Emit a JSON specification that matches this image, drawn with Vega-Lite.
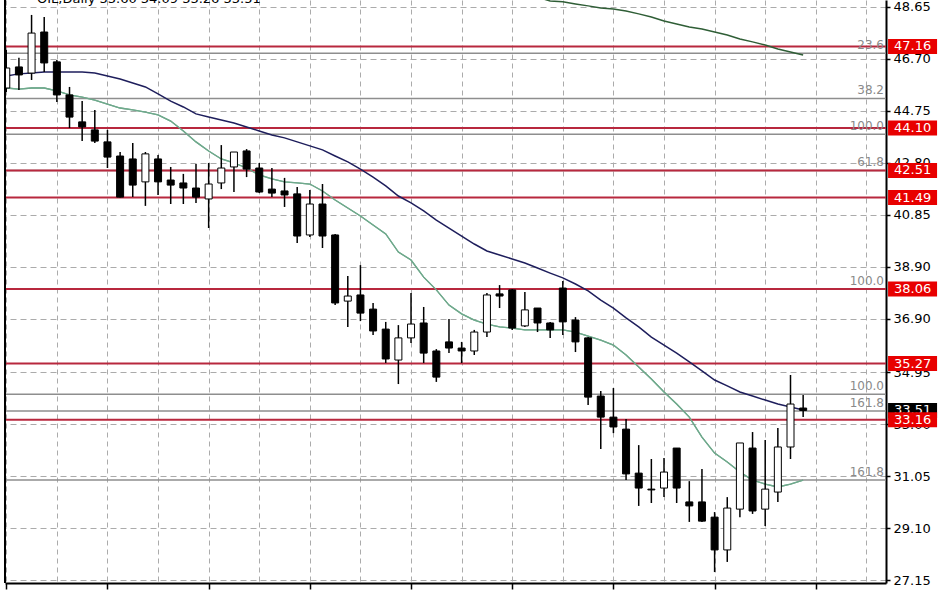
{
  "$schema": "https://vega.github.io/schema/vega-lite/v6.json",
  "width": 881,
  "height": 583,
  "autosize": {"type": "none"},
  "padding": {"left": 5, "top": 0, "right": 62, "bottom": 10},
  "background": "white",
  "config": {"view": {"stroke": null}, "font": "DejaVu Sans"},
  "datasets": {
    "candles": [
      {"k":0,"o":45.60,"h":47.03,"l":45.45,"c":46.35,"m1":46.05,"m2":45.60},
      {"k":1,"o":46.39,"h":46.73,"l":45.53,"c":46.09,"m1":46.13,"m2":45.56},
      {"k":2,"o":46.16,"h":48.34,"l":45.90,"c":47.66,"m1":46.16,"m2":45.60},
      {"k":3,"o":47.70,"h":48.26,"l":46.20,"c":46.54,"m1":46.20,"m2":45.60},
      {"k":4,"o":46.58,"h":46.65,"l":45.08,"c":45.34,"m1":46.20,"m2":45.49},
      {"k":5,"o":45.34,"h":45.64,"l":44.10,"c":44.51,"m1":46.20,"m2":45.34},
      {"k":6,"o":44.33,"h":45.11,"l":43.61,"c":44.14,"m1":46.20,"m2":45.26},
      {"k":7,"o":44.03,"h":44.78,"l":43.54,"c":43.61,"m1":46.16,"m2":45.15},
      {"k":8,"o":43.58,"h":44.03,"l":42.60,"c":43.01,"m1":46.05,"m2":45.00},
      {"k":9,"o":43.05,"h":43.20,"l":41.49,"c":41.51,"m1":45.94,"m2":44.85},
      {"k":10,"o":42.94,"h":43.54,"l":41.51,"c":41.96,"m1":45.79,"m2":44.78},
      {"k":11,"o":42.08,"h":43.20,"l":41.18,"c":43.13,"m1":45.64,"m2":44.70},
      {"k":12,"o":42.94,"h":43.09,"l":41.59,"c":42.08,"m1":45.38,"m2":44.59},
      {"k":13,"o":42.15,"h":42.64,"l":41.25,"c":41.96,"m1":45.11,"m2":44.36},
      {"k":14,"o":42.04,"h":42.38,"l":41.25,"c":41.85,"m1":44.89,"m2":43.99},
      {"k":15,"o":41.85,"h":42.75,"l":41.29,"c":41.51,"m1":44.63,"m2":43.58},
      {"k":16,"o":41.44,"h":42.79,"l":40.35,"c":42.00,"m1":44.51,"m2":43.24},
      {"k":17,"o":42.04,"h":43.46,"l":41.81,"c":42.60,"m1":44.40,"m2":42.94},
      {"k":18,"o":42.64,"h":43.20,"l":41.70,"c":43.20,"m1":44.29,"m2":42.79},
      {"k":19,"o":43.24,"h":43.31,"l":42.26,"c":42.56,"m1":44.14,"m2":42.60},
      {"k":20,"o":42.60,"h":42.79,"l":41.66,"c":41.70,"m1":43.99,"m2":42.34},
      {"k":21,"o":41.81,"h":42.60,"l":41.51,"c":41.66,"m1":43.84,"m2":42.19},
      {"k":22,"o":41.74,"h":42.23,"l":41.14,"c":41.59,"m1":43.73,"m2":42.08},
      {"k":23,"o":41.63,"h":41.89,"l":39.79,"c":40.05,"m1":43.58,"m2":42.04},
      {"k":24,"o":40.09,"h":41.78,"l":40.01,"c":41.25,"m1":43.43,"m2":42.00},
      {"k":25,"o":41.25,"h":42.00,"l":39.60,"c":40.05,"m1":43.28,"m2":41.74},
      {"k":26,"o":40.09,"h":40.13,"l":37.46,"c":37.54,"m1":43.05,"m2":41.40},
      {"k":27,"o":37.61,"h":38.55,"l":36.64,"c":37.80,"m1":42.83,"m2":41.10},
      {"k":28,"o":37.84,"h":38.96,"l":36.86,"c":37.16,"m1":42.56,"m2":40.80},
      {"k":29,"o":37.31,"h":37.54,"l":36.34,"c":36.49,"m1":42.26,"m2":40.46},
      {"k":30,"o":36.56,"h":36.83,"l":35.29,"c":35.44,"m1":41.93,"m2":40.13},
      {"k":31,"o":35.40,"h":36.71,"l":34.50,"c":36.23,"m1":41.55,"m2":39.45},
      {"k":32,"o":36.23,"h":37.91,"l":36.04,"c":36.75,"m1":41.29,"m2":39.15},
      {"k":33,"o":36.79,"h":37.39,"l":35.29,"c":35.66,"m1":40.99,"m2":38.51},
      {"k":34,"o":35.74,"h":35.81,"l":34.58,"c":34.76,"m1":40.65,"m2":38.03},
      {"k":35,"o":36.08,"h":36.94,"l":35.66,"c":35.85,"m1":40.35,"m2":37.46},
      {"k":36,"o":35.85,"h":36.08,"l":35.29,"c":35.74,"m1":40.05,"m2":37.13},
      {"k":37,"o":35.74,"h":36.53,"l":35.59,"c":36.45,"m1":39.75,"m2":36.90},
      {"k":38,"o":36.45,"h":37.91,"l":36.26,"c":37.84,"m1":39.49,"m2":36.75},
      {"k":39,"o":37.88,"h":38.21,"l":37.35,"c":37.80,"m1":39.34,"m2":36.64},
      {"k":40,"o":38.03,"h":38.06,"l":36.53,"c":36.60,"m1":39.19,"m2":36.60},
      {"k":41,"o":36.68,"h":37.95,"l":36.64,"c":37.28,"m1":39.04,"m2":36.53},
      {"k":42,"o":37.35,"h":37.35,"l":36.45,"c":36.79,"m1":38.85,"m2":36.53,"m3":49.01},
      {"k":43,"o":36.79,"h":36.83,"l":36.23,"c":36.53,"m1":38.66,"m2":36.53,"m3":48.86},
      {"k":44,"o":38.10,"h":38.36,"l":36.34,"c":36.83,"m1":38.48,"m2":36.53,"m3":48.83},
      {"k":45,"o":36.90,"h":37.01,"l":35.70,"c":36.08,"m1":38.25,"m2":36.45,"m3":48.75},
      {"k":46,"o":36.23,"h":36.26,"l":33.71,"c":34.01,"m1":37.99,"m2":36.30,"m3":48.68},
      {"k":47,"o":34.05,"h":34.24,"l":32.06,"c":33.26,"m1":37.65,"m2":36.15,"m3":48.60},
      {"k":48,"o":33.26,"h":34.35,"l":32.66,"c":32.89,"m1":37.35,"m2":35.96,"m3":48.56},
      {"k":49,"o":32.81,"h":33.19,"l":30.90,"c":31.13,"m1":36.98,"m2":35.59,"m3":48.49},
      {"k":50,"o":31.16,"h":32.21,"l":29.93,"c":30.60,"m1":36.64,"m2":35.14,"m3":48.38},
      {"k":51,"o":30.56,"h":31.69,"l":30.04,"c":30.53,"m1":36.26,"m2":34.69,"m3":48.26},
      {"k":52,"o":30.60,"h":31.73,"l":30.26,"c":31.20,"m1":35.96,"m2":34.20,"m3":48.11},
      {"k":53,"o":32.10,"h":32.10,"l":30.04,"c":30.60,"m1":35.66,"m2":33.75,"m3":48.00},
      {"k":54,"o":30.08,"h":30.86,"l":29.33,"c":29.93,"m1":35.33,"m2":33.26,"m3":47.89},
      {"k":55,"o":30.08,"h":31.31,"l":29.33,"c":29.36,"m1":34.99,"m2":32.51,"m3":47.81},
      {"k":56,"o":29.51,"h":29.70,"l":27.45,"c":28.28,"m1":34.65,"m2":31.91,"m3":47.70},
      {"k":57,"o":28.28,"h":30.26,"l":27.83,"c":29.85,"m1":34.43,"m2":31.58,"m3":47.59},
      {"k":58,"o":29.81,"h":32.29,"l":29.51,"c":32.29,"m1":34.20,"m2":31.20,"m3":47.44},
      {"k":59,"o":32.10,"h":32.70,"l":29.63,"c":29.74,"m1":34.05,"m2":30.90,"m3":47.33},
      {"k":60,"o":29.81,"h":32.40,"l":29.18,"c":30.56,"m1":33.90,"m2":30.75,"m3":47.21},
      {"k":61,"o":30.45,"h":32.85,"l":30.08,"c":32.14,"m1":33.75,"m2":30.64,"m3":47.06},
      {"k":62,"o":32.14,"h":34.84,"l":31.69,"c":33.75,"m1":33.64,"m2":30.75,"m3":46.95},
      {"k":63,"o":33.60,"h":34.09,"l":33.26,"c":33.51,"m1":33.53,"m2":30.90,"m3":46.84}
    ],
    "levels": [
      {"value":47.16,"label":"47.16"},
      {"value":44.10,"label":"44.10"},
      {"value":42.51,"label":"42.51"},
      {"value":41.49,"label":"41.49"},
      {"value":38.06,"label":"38.06"},
      {"value":35.27,"label":"35.27"},
      {"value":33.16,"label":"33.16"}
    ],
    "fibs": [
      {"value":46.90,"label":"23.6"},
      {"value":45.21,"label":"38.2"},
      {"value":43.87,"label":"100.0"},
      {"value":42.51,"label":"61.8"},
      {"value":38.06,"label":"100.0"},
      {"value":34.12,"label":"100.0"},
      {"value":33.49,"label":"161.8"},
      {"value":30.90,"label":"161.8"}
    ],
    "current": [{"value":33.51,"label":"33.51"}],
    "header": [{"t":"OIL,Daily  33.60 34.09 33.26 33.51"}]
  },
  "layer": [
    {
      "data": {"name": "candles"},
      "mark": {"type": "line", "color": "#6fa98c", "strokeWidth": 1.3, "clip": true},
      "encoding": {
        "x": {
          "field": "k", "type": "quantitative", "title": null,
          "scale": {"domain": [-0.1, 69.55], "nice": false, "zero": false, "padding": 0},
          "axis": {
            "orient": "bottom",
            "values": [0,4,8,12,16,20,24,28,32,36,40,44,48,52,56,60,64,68],
            "grid": true, "gridDash": [5, 4], "gridColor": "#ababab", "gridWidth": 1,
            "labels": false, "ticks": true, "tickSize": 6, "tickColor": "black", "tickWidth": 1.5,
            "tickOpacity": {"condition": {"test": "datum.value % 8 === 0", "value": 1}, "value": 0},
            "domain": true, "domainColor": "black", "domainWidth": 2, "title": null
          }
        },
        "y": {
          "field": "m2", "type": "quantitative", "title": null,
          "scale": {"domain": [27.04, 48.9], "nice": false, "zero": false, "padding": 0},
          "axis": {
            "orient": "right",
            "values": [27.15, 29.10, 31.05, 33.00, 34.95, 36.95, 38.90, 40.85, 42.80, 44.75, 46.70, 48.65],
            "labelExpr": "datum.value == 36.95 ? '36.90' : format(datum.value, '.2f')",
            "grid": true, "gridDash": [6, 4], "gridColor": "#ababab", "gridWidth": 1,
            "ticks": true, "tickSize": 4, "tickColor": "black", "tickWidth": 1.5,
            "labels": true, "labelColor": "black", "labelFontSize": 13, "labelFont": "DejaVu Sans",
            "labelPadding": 3, "labelFlush": false, "labelOverlap": false, "labelBaseline": "middle",
            "domain": true, "domainColor": "black", "domainWidth": 2, "title": null
          }
        }
      }
    },
    {
      "data": {"name": "fibs"},
      "mark": {"type": "rule", "color": "#8e8e8e", "strokeWidth": 1.5},
      "encoding": {
        "y": {"field": "value", "type": "quantitative", "title": null, "scale": {"domain": [27.04, 48.9], "nice": false, "zero": false, "padding": 0}}
      }
    },
    {
      "data": {"name": "levels"},
      "mark": {"type": "rule", "color": "#b8283e", "strokeWidth": 2},
      "encoding": {
        "y": {"field": "value", "type": "quantitative", "title": null, "scale": {"domain": [27.04, 48.9], "nice": false, "zero": false, "padding": 0}}
      }
    },
    {
      "data": {"name": "candles"},
      "mark": {"type": "line", "color": "#6fa98c", "strokeWidth": 1.3, "clip": true},
      "encoding": {
        "x": {"field": "k", "type": "quantitative", "title": null, "scale": {"domain": [-0.1, 69.55], "nice": false, "zero": false, "padding": 0}},
        "y": {"field": "m2", "type": "quantitative", "title": null, "scale": {"domain": [27.04, 48.9], "nice": false, "zero": false, "padding": 0}}
      }
    },
    {
      "data": {"name": "candles"},
      "mark": {"type": "line", "color": "#1e1e5c", "strokeWidth": 1.5, "clip": true},
      "encoding": {
        "x": {"field": "k", "type": "quantitative", "title": null, "scale": {"domain": [-0.1, 69.55], "nice": false, "zero": false, "padding": 0}},
        "y": {"field": "m1", "type": "quantitative", "title": null, "scale": {"domain": [27.04, 48.9], "nice": false, "zero": false, "padding": 0}}
      }
    },
    {
      "data": {"name": "candles"},
      "mark": {"type": "line", "color": "#2f5e36", "strokeWidth": 1.5, "clip": true},
      "encoding": {
        "x": {"field": "k", "type": "quantitative", "title": null, "scale": {"domain": [-0.1, 69.55], "nice": false, "zero": false, "padding": 0}},
        "y": {"field": "m3", "type": "quantitative", "title": null, "scale": {"domain": [27.04, 48.9], "nice": false, "zero": false, "padding": 0}}
      }
    },
    {
      "data": {"name": "candles"},
      "mark": {"type": "rule", "color": "black", "strokeWidth": 1.5, "clip": true},
      "encoding": {
        "x": {"field": "k", "type": "quantitative", "title": null, "scale": {"domain": [-0.1, 69.55], "nice": false, "zero": false, "padding": 0}},
        "y": {"field": "l", "type": "quantitative", "title": null, "scale": {"domain": [27.04, 48.9], "nice": false, "zero": false, "padding": 0}},
        "y2": {"field": "h"}
      }
    },
    {
      "data": {"name": "candles"},
      "mark": {"type": "bar", "size": 7, "stroke": "black", "strokeWidth": 1, "clip": true},
      "encoding": {
        "x": {"field": "k", "type": "quantitative", "title": null, "scale": {"domain": [-0.1, 69.55], "nice": false, "zero": false, "padding": 0}},
        "y": {"field": "o", "type": "quantitative", "title": null, "scale": {"domain": [27.04, 48.9], "nice": false, "zero": false, "padding": 0}},
        "y2": {"field": "c"},
        "fill": {"condition": {"test": "datum.c > datum.o", "value": "white"}, "value": "black"}
      }
    },
    {
      "data": {"name": "current"},
      "mark": {"type": "rule", "color": "black", "strokeWidth": 2},
      "encoding": {
        "x": {"datum": -0.1, "type": "quantitative", "title": null, "scale": {"domain": [-0.1, 69.55], "nice": false, "zero": false, "padding": 0}}
      }
    },
    {
      "data": {"name": "fibs"},
      "mark": {"type": "text", "align": "right", "baseline": "alphabetic", "dx": -2, "dy": -4, "fontSize": 12, "color": "#8a8a8a"},
      "encoding": {
        "x": {"datum": 69.55, "type": "quantitative", "title": null, "scale": {"domain": [-0.1, 69.55], "nice": false, "zero": false, "padding": 0}},
        "y": {"field": "value", "type": "quantitative", "title": null, "scale": {"domain": [27.04, 48.9], "nice": false, "zero": false, "padding": 0}},
        "text": {"field": "label"}
      }
    },
    {
      "data": {"name": "current"},
      "mark": {"type": "tick", "orient": "horizontal", "size": 49, "thickness": 15, "color": "black", "opacity": 1},
      "encoding": {
        "x": {"datum": 71.65, "type": "quantitative", "title": null, "scale": {"domain": [-0.1, 69.55], "nice": false, "zero": false, "padding": 0}},
        "y": {"field": "value", "type": "quantitative", "title": null, "scale": {"domain": [27.04, 48.9], "nice": false, "zero": false, "padding": 0}}
      }
    },
    {
      "data": {"name": "current"},
      "mark": {"type": "text", "align": "center", "baseline": "middle", "fontSize": 13, "color": "white"},
      "encoding": {
        "x": {"datum": 71.65, "type": "quantitative", "title": null, "scale": {"domain": [-0.1, 69.55], "nice": false, "zero": false, "padding": 0}},
        "y": {"field": "value", "type": "quantitative", "title": null, "scale": {"domain": [27.04, 48.9], "nice": false, "zero": false, "padding": 0}},
        "text": {"field": "label"}
      }
    },
    {
      "data": {"name": "levels"},
      "mark": {"type": "tick", "orient": "horizontal", "size": 49, "thickness": 15, "color": "#e80000", "opacity": 1},
      "encoding": {
        "x": {"datum": 71.65, "type": "quantitative", "title": null, "scale": {"domain": [-0.1, 69.55], "nice": false, "zero": false, "padding": 0}},
        "y": {"field": "value", "type": "quantitative", "title": null, "scale": {"domain": [27.04, 48.9], "nice": false, "zero": false, "padding": 0}}
      }
    },
    {
      "data": {"name": "levels"},
      "mark": {"type": "text", "align": "center", "baseline": "middle", "fontSize": 13, "color": "white"},
      "encoding": {
        "x": {"datum": 71.65, "type": "quantitative", "title": null, "scale": {"domain": [-0.1, 69.55], "nice": false, "zero": false, "padding": 0}},
        "y": {"field": "value", "type": "quantitative", "title": null, "scale": {"domain": [27.04, 48.9], "nice": false, "zero": false, "padding": 0}},
        "text": {"field": "label"}
      }
    },
    {
      "data": {"name": "header"},
      "mark": {"type": "text", "align": "left", "baseline": "alphabetic", "dy": 3, "fontSize": 13, "color": "black"},
      "encoding": {
        "x": {"datum": 2.43, "type": "quantitative", "title": null, "scale": {"domain": [-0.1, 69.55], "nice": false, "zero": false, "padding": 0}},
        "y": {"datum": 48.9, "type": "quantitative", "title": null, "scale": {"domain": [27.04, 48.9], "nice": false, "zero": false, "padding": 0}},
        "text": {"field": "t"}
      }
    }
  ]
}
